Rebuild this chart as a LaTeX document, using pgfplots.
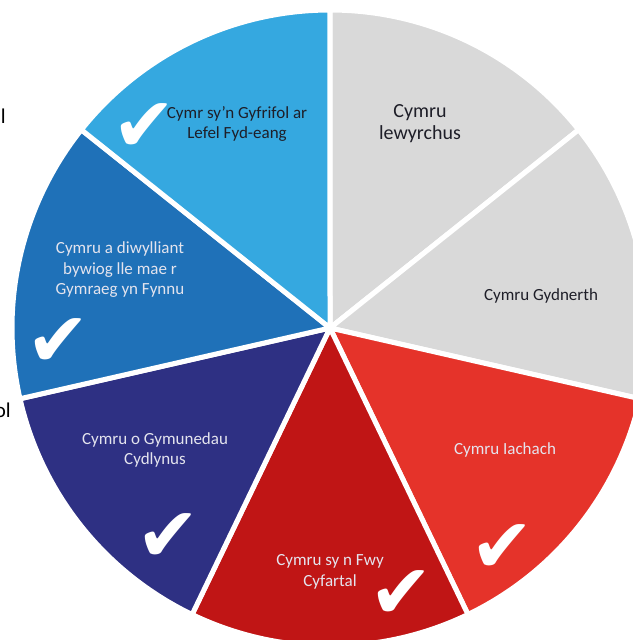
\documentclass[border=0pt]{standalone}
\usepackage{pgfplots}
\pgfplotsset{compat=1.18}
\usepackage{pgfplotstable}
\usepackage{fontspec}
\setmainfont{Carlito}
\newfontfamily\checkfont{DejaVu Sans}
\definecolor{lightblue}{HTML}{35A8E0}
\definecolor{pgrey}{HTML}{D9D9D9}
\definecolor{midblue}{HTML}{1F71B8}
\definecolor{navy}{HTML}{2E3083}
\definecolor{darkred}{HTML}{C01515}
\definecolor{pred}{HTML}{E5332A}
\definecolor{darktext}{HTML}{1E1E28}
\definecolor{lighttext}{HTML}{E4E4EE}
% pie: seven goals, equal shares (1 each, total 7)
% #1 = cumulative share before the slice, #2 = share, #3 = colour
\newcommand{\pieslice}[3]{%
  \addplot[fill=#3, draw=white, line width=5bp, line join=round,
    domain=90-360*(#1+#2)/7:90-360*(#1)/7, samples=80, variable=\t]
    ({330+318*cos(\t)},{312+318*sin(\t)}) -- (axis cs:330,312) -- cycle;}
\newcommand{\tick}{{\checkfont\fontsize{76bp}{76bp}\selectfont ✔}}
\begin{document}
\begin{tikzpicture}
\begin{axis}[at={(0,0)}, anchor=south west, scale only axis,
  width=633bp, height=640bp, xmin=0, xmax=633, ymin=0, ymax=640,
  hide axis, clip=true]
\pieslice{0}{1}{pgrey}
\pieslice{1}{1}{pgrey}
\pieslice{2}{1}{pred}
\pieslice{3}{1}{darkred}
\pieslice{4}{1}{navy}
\pieslice{5}{1}{midblue}
\pieslice{6}{1}{lightblue}
% ticks
\node[text=white, inner sep=0pt] at (axis cs:144,512) {\tick};
\node[text=white, inner sep=0pt] at (axis cs:58,297) {\tick};
\node[text=white, inner sep=0pt] at (axis cs:168,102) {\tick};
\node[text=white, inner sep=0pt] at (axis cs:401,45) {\tick};
\node[text=white, inner sep=0pt] at (axis cs:502,91) {\tick};
% labels
\node[align=center, text=darktext, font=\fontsize{17bp}{20.5bp}\selectfont] at (axis cs:237,516) {Cymr sy'n Gyfrifol ar\\Lefel Fyd-eang};
\node[align=center, text=darktext, font=\fontsize{20bp}{22bp}\selectfont] at (axis cs:420,516) {Cymru\\lewyrchus};
\node[align=center, text=darktext, font=\fontsize{17bp}{20.5bp}\selectfont] at (axis cs:541,344) {Cymru Gydnerth};
\node[align=center, text=lighttext, font=\fontsize{17bp}{20.5bp}\selectfont] at (axis cs:505,190) {Cymru Iachach};
\node[align=center, text=lighttext, font=\fontsize{17bp}{20.5bp}\selectfont] at (axis cs:330,68) {Cymru sy n Fwy\\Cyfartal};
\node[align=center, text=lighttext, font=\fontsize{17bp}{20.5bp}\selectfont] at (axis cs:155,190) {Cymru o Gymunedau\\Cydlynus};
\node[align=center, text=lighttext, font=\fontsize{17bp}{20.5bp}\selectfont] at (axis cs:120,370) {Cymru a diwylliant\\bywiog lle mae r\\Gymraeg yn Fynnu};
% cut-off text at left edge (as in the reference)
\node[anchor=base east, inner sep=0pt, font=\fontsize{21bp}{24bp}\selectfont] at (axis cs:6,516) {l};
\node[anchor=base east, inner sep=0pt, font=\fontsize{21bp}{24bp}\selectfont] at (axis cs:11,223) {ol};
\end{axis}
\pgfresetboundingbox
\path[use as bounding box] (0,0) rectangle (633bp,640bp);
\end{tikzpicture}
\end{document}
